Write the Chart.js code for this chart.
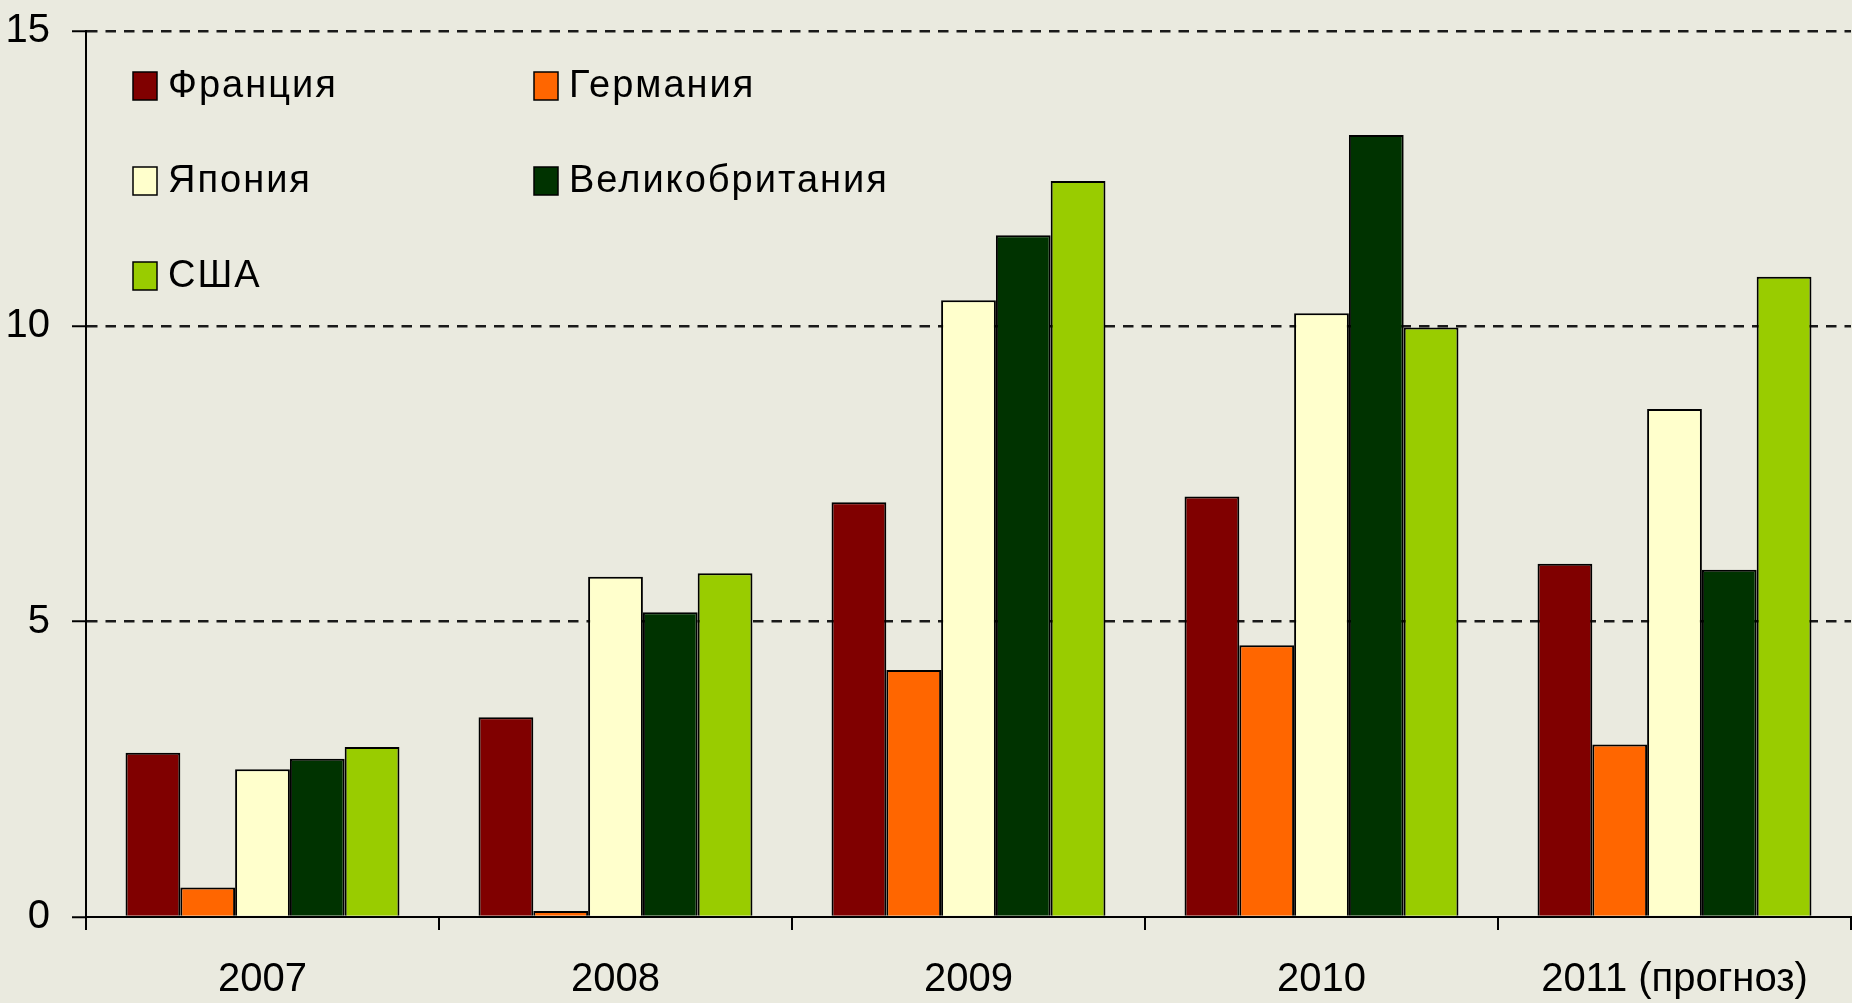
<!DOCTYPE html>
<html>
<head>
<meta charset="utf-8">
<script src="https://cdn.jsdelivr.net/npm/chart.js@4.4.1/dist/chart.umd.min.js"></script>
<style>
html,body{margin:0;padding:0;background:#EAEADF;}
#wrap{width:1852px;height:1003px;position:relative;}
</style>
</head>
<body>
<div id="wrap"><canvas id="c" width="1852" height="1003"></canvas></div>
<script>
const categories = ["2007", "2008", "2009", "2010", "2011 (прогноз)"];
const seriesNames = ["Франция", "Германия", "Япония", "Великобритания", "США"];
const france = [2.78, 3.38, 7.02, 7.12, 5.98];
const germany = [0.5, 0.1, 4.18, 4.6, 2.92];
const japan = [2.5, 5.76, 10.44, 10.22, 8.6];
const uk = [2.68, 5.16, 11.54, 13.24, 5.88];
const usa = [2.88, 5.82, 12.46, 9.98, 10.84];
const yTicks = [0, 5, 10, 15];

const colors = ["#800000", "#FF6600", "#FFFFCC", "#003300", "#99CC00"];
const values = [france, germany, japan, uk, usa];
const FONT = "Liberation Sans";

const legendPlugin = {
  id: 'gridLegend',
  afterDatasetsDraw(chart) {
    const ctx = chart.ctx;
    ctx.save();
    chart.data.datasets.forEach((ds, i) => {
      const col = i % 2, row = Math.floor(i / 2);
      const bx = 133 + col * 401;
      const cy = 86 + row * 95;
      ctx.fillStyle = ds.backgroundColor;
      ctx.fillRect(bx, cy - 14, 24, 28);
      ctx.lineWidth = 1.5;
      ctx.strokeStyle = '#000';
      ctx.strokeRect(bx, cy - 14, 24, 28);
      ctx.fillStyle = '#000';
      ctx.font = '38px "' + FONT + '"';
      ctx.letterSpacing = '2px';
      ctx.textBaseline = 'middle';
      ctx.textAlign = 'left';
      ctx.fillText(ds.label, bx + 35, cy + 1);
    });
    ctx.restore();
  }
};

new Chart(document.getElementById('c'), {
  type: 'bar',
  data: {
    labels: categories,
    datasets: seriesNames.map((n, i) => ({
      label: n,
      data: values[i],
      backgroundColor: colors[i],
      borderColor: '#000',
      borderWidth: 2,
      borderSkipped: 'bottom',
      categoryPercentage: 0.776,
      barPercentage: 1.0
    }))
  },
  options: {
    responsive: false,
    animation: false,
    layout: { padding: { top: 31, right: 1, left: 0, bottom: 0 } },
    plugins: { legend: { display: false }, tooltip: { enabled: false } },
    scales: {
      x: {
        offset: true,
        grid: { display: true, drawOnChartArea: false, drawTicks: true, tickLength: 13, color: '#000', lineWidth: 2, offset: true },
        border: { display: true, color: '#000', width: 2 },
        ticks: { color: '#000', font: { family: FONT, size: 40 }, padding: 26, maxRotation: 0, autoSkip: false },
        afterFit(s) { s.height = 86; s.paddingLeft = 0; s.paddingRight = 0; }
      },
      y: {
        min: 0, max: 15,
        afterBuildTicks(s) { s.ticks = yTicks.map(v => ({ value: v })); },
        grid: {
          color: ctx => ctx.tick && ctx.tick.value === 0 ? 'rgba(0,0,0,0)' : '#1a1a1a',
          lineWidth: 2.5,
          tickLength: 14,
          tickColor: '#000',
          tickWidth: 2,
          tickBorderDash: []
        },
        border: { display: true, color: '#000', width: 2, dash: [10.5, 8] },
        ticks: { color: '#000', font: { family: FONT, size: 40 }, padding: 22 },
        afterFit(s) { s.width = 86; s.paddingTop = 0; s.paddingBottom = 0; }
      }
    }
  },
  plugins: [legendPlugin]
});
</script>
</body>
</html>
